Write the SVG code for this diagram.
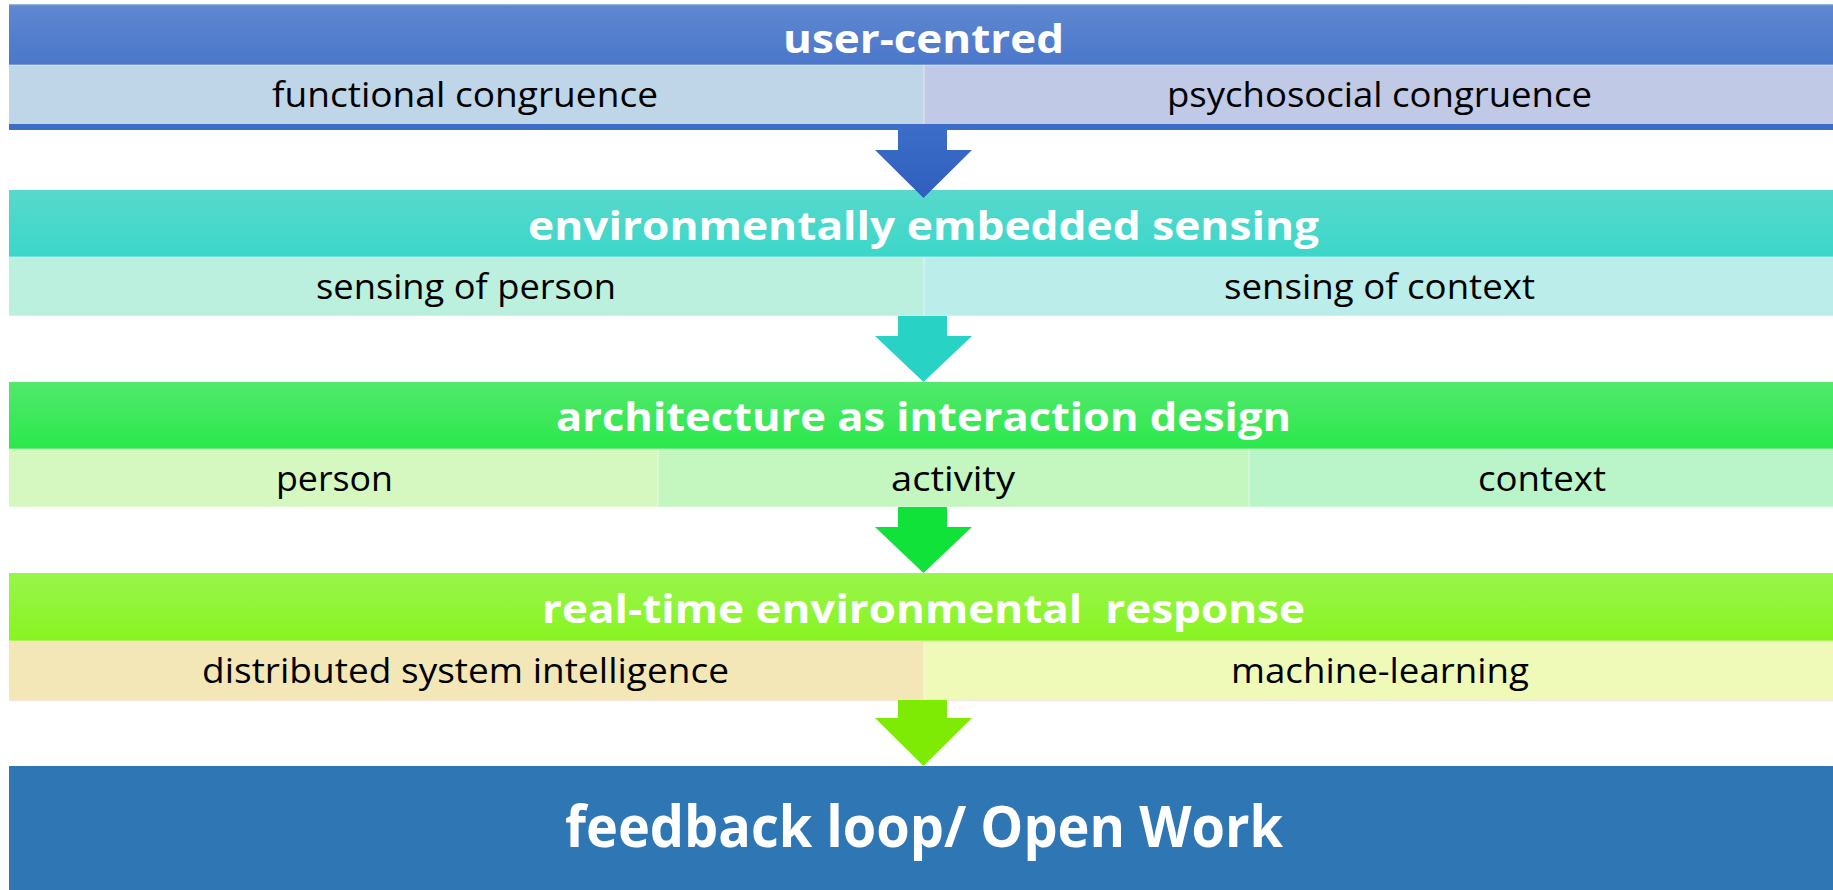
<svg xmlns="http://www.w3.org/2000/svg" width="1833" height="890" viewBox="0 0 1833 890">
  <defs>
    <linearGradient id="g1" x1="0" y1="0" x2="0" y2="1"><stop offset="0" stop-color="#6088D0"/><stop offset="1" stop-color="#4A77CB"/></linearGradient>
    <linearGradient id="g2" x1="0" y1="0" x2="0" y2="1"><stop offset="0" stop-color="#57D9CC"/><stop offset="1" stop-color="#3BD7CA"/></linearGradient>
    <linearGradient id="g3" x1="0" y1="0" x2="0" y2="1"><stop offset="0" stop-color="#52E86C"/><stop offset="1" stop-color="#2BE84C"/></linearGradient>
    <linearGradient id="g4" x1="0" y1="0" x2="0" y2="1"><stop offset="0" stop-color="#98F54C"/><stop offset="1" stop-color="#89F421"/></linearGradient>
    <linearGradient id="a1" x1="0" y1="0" x2="0" y2="1"><stop offset="0" stop-color="#3B6DC7"/><stop offset="1" stop-color="#2F5FBE"/></linearGradient>
  </defs>
  <style>
    .hd { font-family: "Open Sans", "Liberation Sans", sans-serif; font-weight: bold; font-size: 40px; fill: #ffffff; text-anchor: middle; }
    .sb { font-family: "Open Sans", "Liberation Sans", sans-serif; font-size: 35px; fill: #000000; text-anchor: middle; }
    .big { font-family: "Open Sans", "Liberation Sans", sans-serif; font-weight: bold; font-size: 58px; fill: #ffffff; text-anchor: middle; }
    .sep { stroke: #ffffff; stroke-opacity: 0.35; stroke-width: 1.5; }
  </style>
  <rect x="0" y="0" width="1833" height="890" fill="#ffffff"/>

  <g id="user-centred">
    <rect x="9" y="4" width="1824" height="61" fill="url(#g1)"/>
    <line class="sep" x1="9" y1="4.5" x2="1833" y2="4.5"/>
    <rect x="9" y="65" width="915" height="59" fill="#BFD6E9"/>
    <rect x="924" y="65" width="909" height="59" fill="#C0C9E6"/>
    <line class="sep" x1="9" y1="65" x2="1833" y2="65"/>
    <line class="sep" x1="924" y1="65" x2="924" y2="124"/>
    <rect x="9" y="124" width="1824" height="6" fill="#3D6DC8"/>
    <text class="hd" x="923.5" y="53" textLength="281" lengthAdjust="spacingAndGlyphs">user-centred</text>
    <text class="sb" x="465" y="107" textLength="386" lengthAdjust="spacingAndGlyphs">functional congruence</text>
    <text class="sb" x="1379.5" y="107" textLength="425" lengthAdjust="spacingAndGlyphs">psychosocial congruence</text>
  </g>

  <g id="sensing">
    <rect x="9" y="190" width="1824" height="67" fill="url(#g2)"/>
    <rect x="9" y="257" width="915" height="59" fill="#BBF0DE"/>
    <rect x="924" y="257" width="909" height="59" fill="#BBEDEA"/>
    <line class="sep" x1="9" y1="257" x2="1833" y2="257"/>
    <line class="sep" x1="924" y1="257" x2="924" y2="316"/>
    <line class="sep" x1="9" y1="316" x2="1833" y2="316"/>
    <text class="hd" x="923.5" y="240" textLength="791" lengthAdjust="spacingAndGlyphs">environmentally embedded sensing</text>
    <text class="sb" x="466" y="299" textLength="300" lengthAdjust="spacingAndGlyphs">sensing of person</text>
    <text class="sb" x="1379.5" y="299" textLength="311" lengthAdjust="spacingAndGlyphs">sensing of context</text>
  </g>

  <g id="architecture">
    <rect x="9" y="382" width="1824" height="67" fill="url(#g3)"/>
    <rect x="9" y="449" width="649" height="58" fill="#D5F8C0"/>
    <rect x="658" y="449" width="591" height="58" fill="#C4F6C0"/>
    <rect x="1249" y="449" width="584" height="58" fill="#B9F5C8"/>
    <line class="sep" x1="9" y1="449" x2="1833" y2="449"/>
    <line class="sep" x1="658" y1="449" x2="658" y2="507"/>
    <line class="sep" x1="1249" y1="449" x2="1249" y2="507"/>
    <line class="sep" x1="9" y1="507" x2="1833" y2="507"/>
    <text class="hd" x="923.5" y="431" textLength="735" lengthAdjust="spacingAndGlyphs">architecture as interaction design</text>
    <text class="sb" x="334.5" y="491" textLength="117" lengthAdjust="spacingAndGlyphs">person</text>
    <text class="sb" x="953" y="491" textLength="124" lengthAdjust="spacingAndGlyphs">activity</text>
    <text class="sb" x="1542" y="491" textLength="128" lengthAdjust="spacingAndGlyphs">context</text>
  </g>

  <g id="response">
    <rect x="9" y="573" width="1824" height="68" fill="url(#g4)"/>
    <rect x="9" y="641" width="915" height="59" fill="#F3E7B7"/>
    <rect x="924" y="641" width="909" height="59" fill="#EFFAB8"/>
    <line class="sep" x1="9" y1="641" x2="1833" y2="641"/>
    <line class="sep" x1="924" y1="641" x2="924" y2="700"/>
    <line x1="9" y1="700.5" x2="1833" y2="700.5" stroke="#F7E6DA" stroke-width="1.5"/>
    <text class="hd" x="923.5" y="623" textLength="763" lengthAdjust="spacingAndGlyphs" xml:space="preserve">real-time environmental  response</text>
    <text class="sb" x="465.5" y="683" textLength="527" lengthAdjust="spacingAndGlyphs">distributed system intelligence</text>
    <text class="sb" x="1380" y="683" textLength="298" lengthAdjust="spacingAndGlyphs">machine-learning</text>
  </g>

  <g id="feedback">
    <rect x="9" y="766" width="1824" height="124" fill="#2F76B5"/>
    <text class="big" x="924" y="847" textLength="718" lengthAdjust="spacingAndGlyphs">feedback loop/ Open Work</text>
  </g>

  <g id="connectors">
    <polygon points="898,130 947,130 947,150 972,150 923.5,198 875,150 898,150" fill="url(#a1)"/>
    <polygon points="898,316 947,316 947,336 972,336 923.5,382 875,336 898,336" fill="#28D3C6"/>
    <polygon points="898,507 947,507 947,527 972,527 923.5,573 875,527 898,527" fill="#11E23A"/>
    <polygon points="898,700 947,700 947,718 972,718 923.5,766 875,718 898,718" fill="#7EEB04"/>
  </g>
</svg>
